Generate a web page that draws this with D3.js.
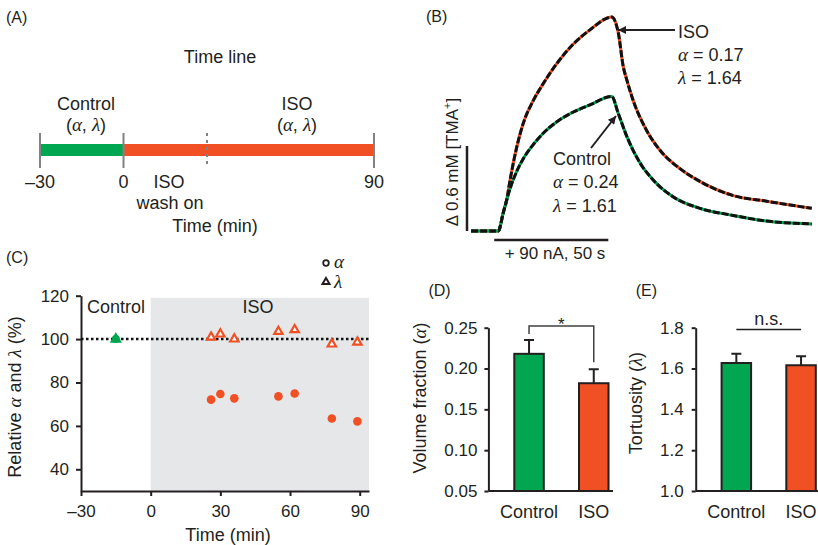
<!DOCTYPE html>
<html>
<head>
<meta charset="utf-8">
<script src="https://cdn.jsdelivr.net/npm/d3@7"></script>
<style>
  body { margin: 0; background: #fff; }
</style>
</head>
<body>
<div id="chart"></div>
<script>
var width = 818, height = 545;
var ink = "#231f20", green = "#00a650", orange = "#f05023";
var sans = "'Liberation Sans', Arial, sans-serif";
var serif = "'Liberation Serif', 'Times New Roman', serif";

// (A) time line, minutes
var phaseNames = ["Control", "ISO"];
var phaseStart = [-30, 0];
var phaseEnd = [0, 90];
var timelineTicks = [-30, 0, 90];
var washMark = 30;

// (B) TMA+ traces, time in s, concentration in mM
var isoTime = [-12, 0, 2.2, 3.7, 5.2, 8.1, 11.0, 15.4, 19.8, 25.7, 33.1, 40.4, 50, 52.9, 55.1, 56.6, 59.5, 65.4, 71.3, 80.1, 88.9, 103.6, 118.3, 138.2];
var isoConc = [0, 0, 0.13, 0.22, 0.36, 0.59, 0.76, 0.92, 1.04, 1.18, 1.32, 1.42, 1.51, 1.40, 1.16, 1.07, 0.92, 0.71, 0.57, 0.44, 0.35, 0.25, 0.21, 0.16];
var ctlTime = [-12, 0, 2.2, 5.2, 8.1, 11.0, 15.4, 19.8, 25.7, 33.1, 40.4, 50, 52.9, 56.6, 62.5, 68.3, 77.2, 88.9, 103.6, 118.3, 138.2];
var ctlConc = [0, 0, 0.13, 0.30, 0.42, 0.51, 0.61, 0.69, 0.77, 0.84, 0.89, 0.95, 0.83, 0.67, 0.48, 0.36, 0.24, 0.16, 0.11, 0.07, 0.05];

// (C) relative alpha / lambda, %
var ctlPointTime = -15, ctlPointValue = 100;
var isoPointTime = [26, 30, 36, 55, 62, 78, 89];
var alphaRel = [72.1, 74.7, 72.7, 73.6, 74.9, 63.4, 62.1];
var lambdaRel = [100.9, 102.3, 100.0, 103.5, 104.3, 97.7, 98.6];
var cXTicks = [-30, 0, 30, 60, 90];
var cYTicks = [40, 60, 80, 100, 120];

// (D), (E) means and SEM
var groups = ["Control", "ISO"];
var alphaMean = [0.218, 0.182];
var alphaSem = [0.017, 0.017];
var lambdaMean = [1.627, 1.616];
var lambdaSem = [0.045, 0.044];
var dTicks = [0.05, 0.10, 0.15, 0.20, 0.25];
var eTicks = [1.0, 1.2, 1.4, 1.6, 1.8];

var svg = d3.select("#chart").append("svg")
    .attr("width", width)
    .attr("height", height)
    .style("font-family", sans)
    .attr("fill", ink);

function label(g, x, y, str, size, anchor) {
  return g.append("text").attr("x", x).attr("y", y)
    .attr("font-size", size || 18)
    .attr("text-anchor", anchor || "start")
    .attr("fill", ink)
    .text(str);
}
// text with greek italic parts, parts = [[str, isGreek], ...]
function rich(g, x, y, parts, size, anchor) {
  var t = g.append("text").attr("x", x).attr("y", y)
    .attr("font-size", size || 18)
    .attr("text-anchor", anchor || "start")
    .attr("fill", ink);
  parts.forEach(function(p) {
    var s = t.append("tspan").text(p[0]);
    if (p[1]) s.attr("font-family", serif).attr("font-style", "italic").attr("font-size", (size || 18) + 1);
  });
  return t;
}
function styleAxis(g, size) {
  g.selectAll("path, line").attr("stroke", ink).attr("stroke-width", 2);
  g.selectAll("text").attr("font-family", sans).attr("font-size", size || 17).attr("fill", ink);
}

// ---------- (A) ----------
var gA = svg.append("g");
label(gA, 6, 23, "(A)", 16);
label(gA, 220, 63, "Time line", 18, "middle");
var ax = d3.scaleLinear().domain([-30, 90]).range([40, 374]);
gA.selectAll(".phase")
    .data(phaseNames)
  .enter().append("line")
    .attr("x1", function(d, i) { return ax(phaseStart[i]); })
    .attr("x2", function(d, i) { return ax(phaseEnd[i]); })
    .attr("y1", 150).attr("y2", 150)
    .attr("stroke", function(d, i) { return i == 0 ? green : orange; })
    .attr("stroke-width", 12);
gA.selectAll(".tk")
    .data(timelineTicks)
  .enter().append("line")
    .attr("x1", ax).attr("x2", ax)
    .attr("y1", 133).attr("y2", 168)
    .attr("stroke", "#808285").attr("stroke-width", 2);
gA.append("line")
    .attr("x1", ax(washMark)).attr("x2", ax(washMark))
    .attr("y1", 133).attr("y2", 168)
    .attr("stroke", "#808285").attr("stroke-width", 2)
    .attr("stroke-dasharray", "3,4");
gA.selectAll(".tl")
    .data(timelineTicks)
  .enter().append("text")
    .attr("x", ax).attr("y", 188)
    .attr("text-anchor", "middle").attr("font-size", 18).attr("fill", ink)
    .text(function(d) { return d < 0 ? "\u2013" + Math.abs(d) : d; });
label(gA, 169, 188, "ISO", 18, "middle");
label(gA, 170, 209, "wash on", 18, "middle");
label(gA, 215, 232, "Time (min)", 18, "middle");
label(gA, 86, 110, "Control", 18, "middle");
rich(gA, 86, 131, [["(", 0], ["\u03b1", 1], [", ", 0], ["\u03bb", 1], [")", 0]], 18, "middle");
label(gA, 297, 110, "ISO", 18, "middle");
rich(gA, 297, 131, [["(", 0], ["\u03b1", 1], [", ", 0], ["\u03bb", 1], [")", 0]], 18, "middle");

// ---------- (B) ----------
var gB = svg.append("g");
label(gB, 426, 22, "(B)", 16);
var bx = d3.scaleLinear().domain([0, 50]).range([498.3, 611.7]);
var by = d3.scaleLinear().domain([0, 0.6]).range([231, 146]);
var line = d3.line().x(function(d) { return bx(d[0]); }).y(function(d) { return by(d[1]); })
    .curve(d3.curveMonotoneX);
var traces = [
  { pts: d3.zip(isoTime, isoConc), color: orange },
  { pts: d3.zip(ctlTime, ctlConc), color: green }
];
traces.forEach(function(tr) {
  gB.append("path").attr("d", line(tr.pts)).attr("fill", "none")
    .attr("stroke", tr.color).attr("stroke-width", 3);
  gB.append("path").attr("d", line(tr.pts)).attr("fill", "none")
    .attr("stroke", "#111").attr("stroke-width", 3)
    .attr("stroke-dasharray", "7,2");
});
// scale bars
gB.append("line").attr("x1", 467).attr("x2", 467)
    .attr("y1", by(0)).attr("y2", by(0.6))
    .attr("stroke", ink).attr("stroke-width", 2.5);
var vt = gB.append("text").attr("transform", "translate(458,162) rotate(-90)")
    .attr("text-anchor", "middle").attr("font-size", 17).attr("fill", ink);
vt.append("tspan").text("\u0394 0.6 mM [TMA");
vt.append("tspan").attr("font-size", 11).attr("dy", -7).text("+");
vt.append("tspan").attr("dy", 7).text("]");
gB.append("line").attr("x1", bx(-1.8)).attr("x2", bx(48.5))
    .attr("y1", 240).attr("y2", 240)
    .attr("stroke", ink).attr("stroke-width", 2.5);
label(gB, 555, 259, "+ 90 nA, 50 s", 17, "middle");

svg.append("defs").append("marker")
    .attr("id", "arr").attr("viewBox", "0 0 10 10")
    .attr("refX", 10).attr("refY", 5)
    .attr("markerWidth", 5).attr("markerHeight", 4).attr("markerUnits", "strokeWidth")
    .attr("orient", "auto")
  .append("path").attr("d", "M0,0L10,5L0,10z").attr("fill", ink);
gB.append("line").attr("x1", 675).attr("y1", 30).attr("x2", 618).attr("y2", 30)
    .attr("stroke", ink).attr("stroke-width", 2).attr("marker-end", "url(#arr)");
gB.append("line").attr("x1", 591).attr("y1", 148).attr("x2", 616).attr("y2", 116)
    .attr("stroke", ink).attr("stroke-width", 2).attr("marker-end", "url(#arr)");
label(gB, 678, 38, "ISO", 18);
rich(gB, 678, 61, [["\u03b1", 1], [" = 0.17", 0]], 18);
rich(gB, 678, 84, [["\u03bb", 1], [" = 1.64", 0]], 18);
label(gB, 553, 165, "Control", 18);
rich(gB, 553, 188, [["\u03b1", 1], [" = 0.24", 0]], 18);
rich(gB, 553, 212, [["\u03bb", 1], [" = 1.61", 0]], 18);

// ---------- (C) ----------
var gC = svg.append("g");
label(gC, 6, 263, "(C)", 16);
var cx = d3.scaleLinear().domain([-30, 94]).range([81, 369]);
var cy = d3.scaleLinear().domain([30, 120]).range([491, 295.7]);
gC.append("rect")
    .attr("x", cx(0)).attr("y", cy(119))
    .attr("width", cx(94) - cx(0)).attr("height", cy(30) - cy(119))
    .attr("fill", "#e6e7e8");
gC.append("g").attr("transform", "translate(0," + cy(30) + ")")
    .call(d3.axisBottom(cx).tickValues(cXTicks).tickSize(5).tickSizeOuter(0).tickPadding(9)
      .tickFormat(function(d) { return d < 0 ? "\u2013" + Math.abs(d) : d; }))
    .call(styleAxis, 17);
gC.append("g").attr("transform", "translate(" + cx(-30) + ",0)")
    .call(d3.axisLeft(cy).tickValues(cYTicks).tickSize(5).tickSizeOuter(0).tickPadding(7))
    .call(styleAxis, 17);
gC.append("line")
    .attr("x1", cx(-30)).attr("x2", cx(94))
    .attr("y1", cy(100)).attr("y2", cy(100))
    .attr("stroke", "#111").attr("stroke-width", 2.5).attr("stroke-dasharray", "2.5,2.5");
label(gC, 87, 313, "Control", 18);
label(gC, 258, 313, "ISO", 18, "middle");
label(gC, 228, 541, "Time (min)", 18, "middle");
rich(gC, 0, 0, [["Relative ", 0], ["\u03b1", 1], [" and ", 0], ["\u03bb", 1], [" (%)", 0]], 18, "middle")
    .attr("transform", "translate(21,397) rotate(-90)");

var tri = d3.symbol().type(d3.symbolTriangle);
// control point
gC.append("circle").attr("cx", cx(ctlPointTime)).attr("cy", cy(ctlPointValue))
    .attr("r", 4).attr("fill", green);
gC.append("path").attr("d", tri.size(40)())
    .attr("transform", "translate(" + cx(ctlPointTime) + "," + cy(ctlPointValue) + ")")
    .attr("fill", green).attr("stroke", green).attr("stroke-width", 1.5);
gC.selectAll(".alpha")
    .data(isoPointTime)
  .enter().append("circle")
    .attr("cx", function(d) { return cx(d); })
    .attr("cy", function(d, i) { return cy(alphaRel[i]); })
    .attr("r", 4.3).attr("fill", orange);
gC.selectAll(".lambda")
    .data(isoPointTime)
  .enter().append("path")
    .attr("d", tri.size(30)())
    .attr("transform", function(d, i) { return "translate(" + cx(d) + "," + cy(lambdaRel[i]) + ")"; })
    .attr("fill", "#fff").attr("stroke", orange).attr("stroke-width", 2.2);
// legend
gC.append("circle").attr("cx", 326).attr("cy", 263).attr("r", 2.8)
    .attr("fill", "#fff").attr("stroke", ink).attr("stroke-width", 1.8);
gC.append("path").attr("d", tri.size(22)())
    .attr("transform", "translate(326,282)")
    .attr("fill", "#fff").attr("stroke", ink).attr("stroke-width", 2);
rich(gC, 334, 268, [["\u03b1", 1]], 18);
rich(gC, 334, 288, [["\u03bb", 1]], 18);

// ---------- (D) and (E) bars ----------
function barPanel(opt) {
  var g = svg.append("g");
  label(g, opt.x0 - 60, 296, opt.tag, 16);
  var x = d3.scaleBand().domain(groups).range([opt.x0, opt.x0 + 146]).paddingInner(0.544).paddingOuter(0.4);
  var y = d3.scaleLinear().domain(opt.domain).range([491, 327.7]);
  g.selectAll(".bar")
      .data(groups)
    .enter().append("rect")
      .attr("x", function(d) { return x(d); })
      .attr("y", function(d, i) { return y(opt.mean[i]); })
      .attr("width", x.bandwidth())
      .attr("height", function(d, i) { return y(opt.domain[0]) - y(opt.mean[i]); })
      .attr("fill", function(d, i) { return i == 0 ? green : orange; })
      .attr("stroke", ink).attr("stroke-width", 2);
  g.selectAll(".err")
      .data(groups)
    .enter().append("path")
      .attr("d", function(d, i) {
        var c = x(d) + x.bandwidth() / 2, top = y(opt.mean[i] + opt.sem[i]);
        return "M" + c + "," + y(opt.mean[i]) + "V" + top + "M" + (c - 5) + "," + top + "H" + (c + 5);
      })
      .attr("fill", "none").attr("stroke", ink).attr("stroke-width", 2);
  g.append("line").attr("x1", opt.x0).attr("x2", opt.xEnd)
      .attr("y1", y(opt.domain[0])).attr("y2", y(opt.domain[0]))
      .attr("stroke", ink).attr("stroke-width", 2);
  g.append("g").attr("transform", "translate(" + opt.x0 + ",0)")
      .call(d3.axisLeft(y).tickValues(opt.ticks).tickSize(4).tickSizeOuter(0).tickPadding(opt.pad)
        .tickFormat(d3.format(opt.fmt)))
      .call(styleAxis, 17);
  g.selectAll(".cat")
      .data(groups)
    .enter().append("text")
      .attr("x", function(d) { return x(d) + x.bandwidth() / 2; })
      .attr("y", 518)
      .attr("text-anchor", "middle").attr("font-size", 18).attr("fill", ink)
      .text(function(d) { return d; });
  rich(g, 0, 0, opt.title, 18, "middle")
      .attr("transform", "translate(" + opt.titleX + "," + opt.titleY + ") rotate(-90)");
  return { g: g, x: x, y: y };
}

var pD = barPanel({ x0: 488.4, xEnd: 613, tag: "(D)", domain: [0.05, 0.25], mean: alphaMean, sem: alphaSem,
  ticks: dTicks, fmt: ".2f", pad: 7, titleX: 426, titleY: 398,
  title: [["Volume fraction (", 0], ["\u03b1", 1], [")", 0]] });
var cD = pD.x("Control") + pD.x.bandwidth() / 2, iD = pD.x("ISO") + pD.x.bandwidth() / 2;
pD.g.append("path")
    .attr("d", "M" + cD + "," + (pD.y(alphaMean[0] + alphaSem[0]) - 6) + "V326H" + iD + "V" + (pD.y(alphaMean[1] + alphaSem[1]) - 7))
    .attr("fill", "none").attr("stroke", "#414042").attr("stroke-width", 1.5);
label(pD.g, (cD + iD) / 2, 330, "*", 17, "middle");

var pE = barPanel({ x0: 695.7, xEnd: 818, tag: "(E)", domain: [1.0, 1.8], mean: lambdaMean, sem: lambdaSem,
  ticks: eTicks, fmt: ".1f", pad: 8, titleX: 642, titleY: 403,
  title: [["Tortuosity (", 0], ["\u03bb", 1], [")", 0]] });
var cE = pE.x("Control") + pE.x.bandwidth() / 2, iE = pE.x("ISO") + pE.x.bandwidth() / 2;
pE.g.append("line").attr("x1", cE).attr("x2", iE).attr("y1", 329.5).attr("y2", 329.5)
    .attr("stroke", ink).attr("stroke-width", 1.5);
label(pE.g, (cE + iE) / 2, 325, "n.s.", 18, "middle");
</script>
</body>
</html>
